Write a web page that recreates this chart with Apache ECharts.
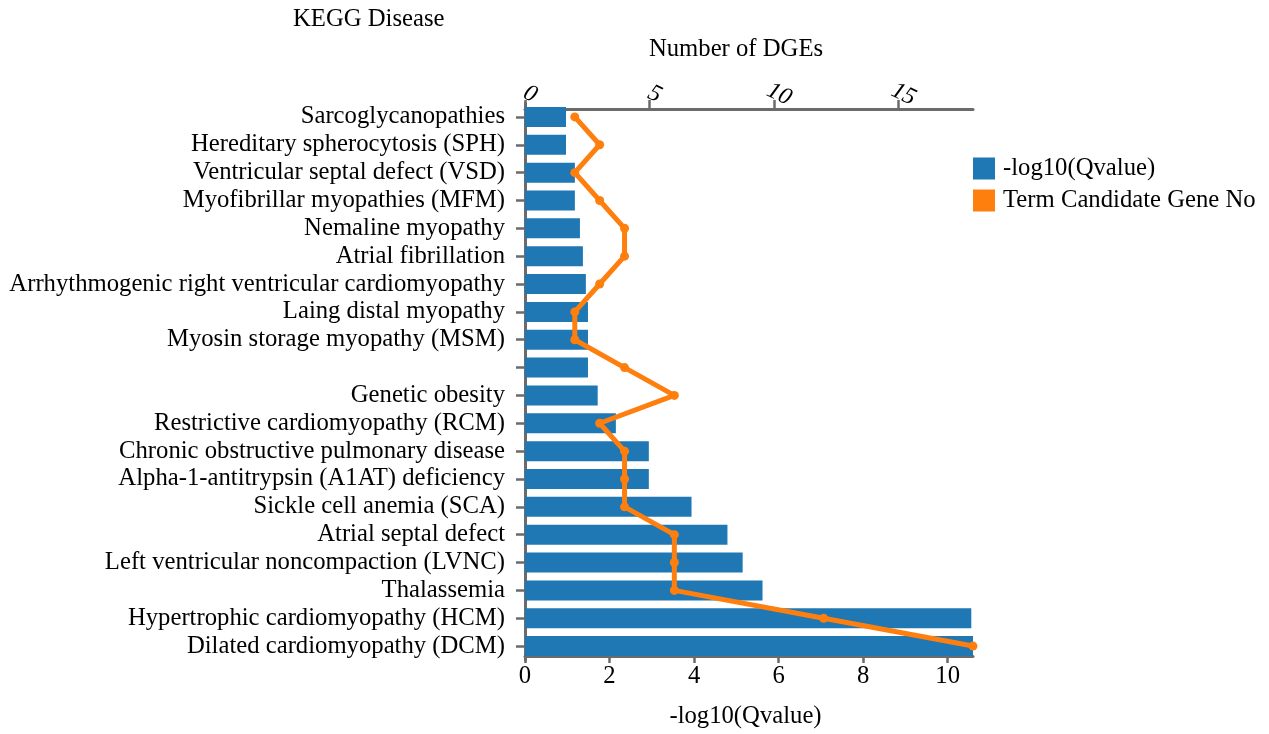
<!DOCTYPE html>
<html>
<head>
<meta charset="utf-8">
<script src="https://cdn.jsdelivr.net/npm/echarts@6/dist/echarts.min.js"></script>
<style>
html,body{margin:0;padding:0;background:#fff;}
#chart{width:1269px;height:734px;}
</style>
</head>
<body>
<div id="chart"></div>
<script>
// categories listed bottom -> top
const categories = [
  'Dilated cardiomyopathy (DCM)',
  'Hypertrophic cardiomyopathy (HCM)',
  'Thalassemia',
  'Left ventricular noncompaction (LVNC)',
  'Atrial septal defect',
  'Sickle cell anemia (SCA)',
  'Alpha-1-antitrypsin (A1AT) deficiency',
  'Chronic obstructive pulmonary disease',
  'Restrictive cardiomyopathy (RCM)',
  'Genetic obesity',
  '',
  'Myosin storage myopathy (MSM)',
  'Laing distal myopathy',
  'Arrhythmogenic right ventricular cardiomyopathy',
  'Atrial fibrillation',
  'Nemaline myopathy',
  'Myofibrillar myopathies (MFM)',
  'Ventricular septal defect (VSD)',
  'Hereditary spherocytosis (SPH)',
  'Sarcoglycanopathies'
];
const qvalues = [10.60, 10.56, 5.62, 5.15, 4.79, 3.94, 2.93, 2.93, 2.15, 1.72,
                 1.49, 1.49, 1.49, 1.44, 1.37, 1.30, 1.18, 1.18, 0.97, 0.97];
const geneCounts = [18, 12, 6, 6, 6, 4, 4, 4, 3, 6, 4, 2, 2, 3, 4, 4, 3, 2, 3, 2];
const qMax = 10.6;
const geneMax = 18;

const FONT = "'Liberation Serif','Times New Roman',serif";
const FS = 24.7;
const AX = '#6b6b6b';

const chart = echarts.init(document.getElementById('chart'), null, {renderer:'canvas'});
chart.setOption({
  animation: false,
  backgroundColor: '#fff',
  textStyle: {fontFamily: FONT, color: '#000'},
  title: {
    text: 'KEGG Disease', left: 293, top: 7, padding: 0,
    textStyle: {fontFamily: FONT, fontWeight: 'normal', fontSize: FS, color: '#000'}
  },
  legend: {
    orient: 'vertical', left: 973, top: 156, padding: 0,
    itemWidth: 22, itemHeight: 22, itemGap: 7,
    icon: 'rect',
    textStyle: {fontFamily: FONT, fontSize: FS, color: '#000', lineHeight: 22, padding: [0, 0, 0, 3]},
    data: [
      {name: '-log10(Qvalue)', itemStyle: {color: '#1f77b4'}},
      {name: 'Term Candidate Gene No', itemStyle: {color: '#ff7f0e'}}
    ]
  },
  grid: {left: 525, right: 296, top: 103, bottom: 73, containLabel: false},
  xAxis: [
    {
      type: 'value', position: 'bottom', min: 0, max: qMax, interval: 2, offset: -4,
      name: '-log10(Qvalue)', nameLocation: 'middle', nameGap: 48,
      nameTextStyle: {fontFamily: FONT, fontSize: FS, color: '#000', padding: [0, 7, 0, 0]},
      axisLine: {show: true, lineStyle: {color: AX, width: 3}},
      axisTick: {show: true, length: 7, lineStyle: {color: AX, width: 2.5}},
      axisLabel: {fontFamily: FONT, fontSize: FS, color: '#000', margin: 8, showMaxLabel: false},
      splitLine: {show: false}
    },
    {
      type: 'value', position: 'top', min: 0, max: geneMax, interval: 5, offset: -6,
      name: 'Number of DGEs', nameLocation: 'middle', nameGap: 47,
      nameTextStyle: {fontFamily: FONT, fontSize: FS, color: '#000', padding: [0, 26, 0, 0]},
      axisLine: {show: true, lineStyle: {color: AX, width: 3}},
      axisTick: {show: true, length: 9, lineStyle: {color: AX, width: 2.5}},
      axisLabel: {fontFamily: FONT, fontSize: 24, color: '#000', fontStyle: 'italic',
                  rotate: 26, align: 'center', verticalAlign: 'bottom', margin: 4, showMaxLabel: false},
      splitLine: {show: false}
    }
  ],
  yAxis: {
    type: 'category', data: categories,
    axisLine: {show: true, lineStyle: {color: AX, width: 3}},
    axisTick: {show: true, alignWithLabel: true, length: 9, lineStyle: {color: AX, width: 2.5}},
    axisLabel: {fontFamily: FONT, fontSize: FS, color: '#000', margin: 20, interval: 0},
    splitLine: {show: false}
  },
  series: [
    {
      name: '-log10(Qvalue)', type: 'bar', xAxisIndex: 0, yAxisIndex: 0,
      data: qvalues, barWidth: 20, itemStyle: {color: '#1f77b4'}, z: 2
    },
    {
      name: 'Term Candidate Gene No', type: 'line', xAxisIndex: 1, yAxisIndex: 0,
      data: geneCounts.map((v, i) => [v, i]),
      symbol: 'circle', symbolSize: 9, showSymbol: true,
      lineStyle: {color: '#ff7f0e', width: 5}, itemStyle: {color: '#ff7f0e'}, z: 3
    }
  ]
});
</script>
</body>
</html>
